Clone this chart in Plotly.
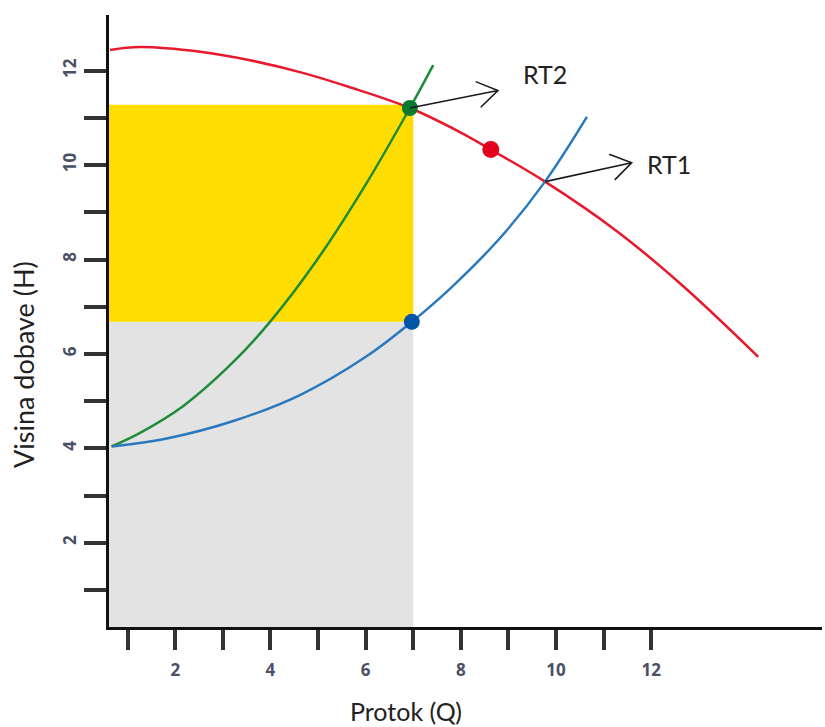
import math
import plotly.graph_objects as go

# ---- data ----
red_q = [0.63, 1.26, 2.52, 3.57, 4.62, 5.67, 6.93, 7.98, 8.63, 9.77, 11.28, 12.68, 14.25]
red_h = [12.44, 12.50, 12.40, 12.22, 11.97, 11.65, 11.21, 10.70, 10.33, 9.65, 8.60, 7.43, 5.94]

green_q = [0.66, 1.26, 2.17, 3.22, 3.99, 4.97, 6.02, 6.93, 7.42]
green_h = [4.04, 4.33, 4.90, 5.83, 6.68, 7.98, 9.62, 11.21, 12.12]

blue_q = [0.66, 1.82, 3.22, 4.62, 6.02, 6.97, 7.77, 8.82, 9.77, 10.65]
blue_h = [4.04, 4.21, 4.58, 5.13, 5.95, 6.68, 7.38, 8.45, 9.65, 11.02]

# operating points
rt2_point = (6.93, 11.21)
blue_point = (6.97, 6.68)
red_point = (8.63, 10.33)
rt1_point = (9.77, 9.65)

# arrow tips and labels
arrow_tips = [(8.78, 11.58), (11.59, 10.05)]
arrow_tails = [rt2_point, rt1_point]
label_text = ["RT2", "RT1"]
label_pos = [(9.27, 11.92), (11.87, 10.03)]

# shaded areas
q_op = 7.0
h_low = 6.68
h_high = 11.28

tick_vals = list(range(1, 13))
tick_text = [str(v) if v % 2 == 0 else "" for v in tick_vals]

X_RANGE = [0.607, 15.59]
Y_RANGE = [0.216, 13.18]

W, H = 825, 727
ML, MR, MT, MB = 109, 3, 15, 100
pw = W - ML - MR
ph = H - MT - MB
sx = pw / (X_RANGE[1] - X_RANGE[0])
sy = ph / (Y_RANGE[1] - Y_RANGE[0])

TEXT_FONT = "Lato, Open Sans, sans-serif"

fig = go.Figure()

fig.add_trace(go.Scatter(x=red_q, y=red_h, mode="lines", line=dict(color="#E8192C", width=2.5, shape="spline"),
                         hoverinfo="skip", showlegend=False))
fig.add_trace(go.Scatter(x=green_q, y=green_h, mode="lines", line=dict(color="#1E8C3A", width=2.5, shape="spline"),
                         hoverinfo="skip", showlegend=False))
fig.add_trace(go.Scatter(x=blue_q, y=blue_h, mode="lines", line=dict(color="#2A78BE", width=2.5, shape="spline"),
                         hoverinfo="skip", showlegend=False))

fig.add_trace(go.Scatter(x=[rt2_point[0]], y=[rt2_point[1]], mode="markers",
                         marker=dict(color="#0A7A30", size=16), showlegend=False, hoverinfo="skip"))
fig.add_trace(go.Scatter(x=[blue_point[0]], y=[blue_point[1]], mode="markers",
                         marker=dict(color="#0055A5", size=16), showlegend=False, hoverinfo="skip"))
fig.add_trace(go.Scatter(x=[red_point[0]], y=[red_point[1]], mode="markers",
                         marker=dict(color="#E3001B", size=17), showlegend=False, hoverinfo="skip"))

shapes = [
    dict(type="rect", xref="x", yref="y", x0=X_RANGE[0], x1=q_op, y0=Y_RANGE[0], y1=h_low,
         fillcolor="#E3E3E3", line=dict(width=0), layer="below"),
    dict(type="rect", xref="x", yref="y", x0=X_RANGE[0], x1=q_op, y0=h_low, y1=h_high,
         fillcolor="#FFDD00", line=dict(width=0), layer="below"),
]

# open-headed arrows
head_len = 24.0
head_ang = math.radians(33)
for (tx, ty), (hx, hy) in zip(arrow_tails, arrow_tips):
    dxp = (hx - tx) * sx
    dyp = -(hy - ty) * sy
    ang = math.atan2(dyp, dxp)
    arms = []
    for s in (1, -1):
        a = ang + math.pi + s * head_ang
        ax_ = hx + head_len * math.cos(a) / sx
        ay_ = hy - head_len * math.sin(a) / sy
        arms.append((ax_, ay_))
    path = (f"M {tx},{ty} L {hx},{hy} M {arms[0][0]},{arms[0][1]} L {hx},{hy} L {arms[1][0]},{arms[1][1]}")
    shapes.append(dict(type="path", xref="x", yref="y", path=path,
                       line=dict(color="#1A1A1A", width=1.6)))

annotations = []
for t, (lx, ly) in zip(label_text, label_pos):
    annotations.append(dict(x=lx, y=ly, xref="x", yref="y", text=t, showarrow=False,
                            xanchor="left", yanchor="middle",
                            font=dict(family=TEXT_FONT, size=25, color="#222222")))

# axis titles positioned in pixels (converted to paper coords)
title_specs = [("Protok (Q)", 406, 711, 0, 25), ("Visina dobave (H)", 23, 365, -90, 27)]
for text, px, py, ang, fs in title_specs:
    annotations.append(dict(x=(px - ML) / pw, y=((H - py) - MB) / ph, xref="paper", yref="paper",
                            text=text, showarrow=False, textangle=ang,
                            xanchor="center", yanchor="middle",
                            font=dict(family=TEXT_FONT, size=fs, color="#222222")))

tickfont = dict(family="Open Sans, sans-serif", size=17, color="#4B4F66", weight="bold")

fig.update_layout(
    width=W, height=H,
    margin=dict(l=ML, r=MR, t=MT, b=MB),
    paper_bgcolor="white", plot_bgcolor="white",
    shapes=shapes, annotations=annotations,
    xaxis=dict(range=X_RANGE, tickvals=tick_vals, ticktext=tick_text, ticks="outside",
               ticklen=20, tickwidth=3.5, tickcolor="#333333", showgrid=False, zeroline=False,
               showline=True, linecolor="#111111", linewidth=3, tickfont=tickfont,
               ticklabelstandoff=6),
    yaxis=dict(range=Y_RANGE, tickvals=tick_vals, ticktext=tick_text, ticks="outside",
               ticklen=22, tickwidth=3.5, tickcolor="#333333", showgrid=False, zeroline=False,
               showline=True, linecolor="#111111", linewidth=3, tickangle=-90, tickfont=tickfont,
               ticklabelstandoff=1),
)

fig.write_html("out.html", config={"displayModeBar": False},
               post_script="document.body.style.margin='0';document.body.style.overflow='hidden';")
